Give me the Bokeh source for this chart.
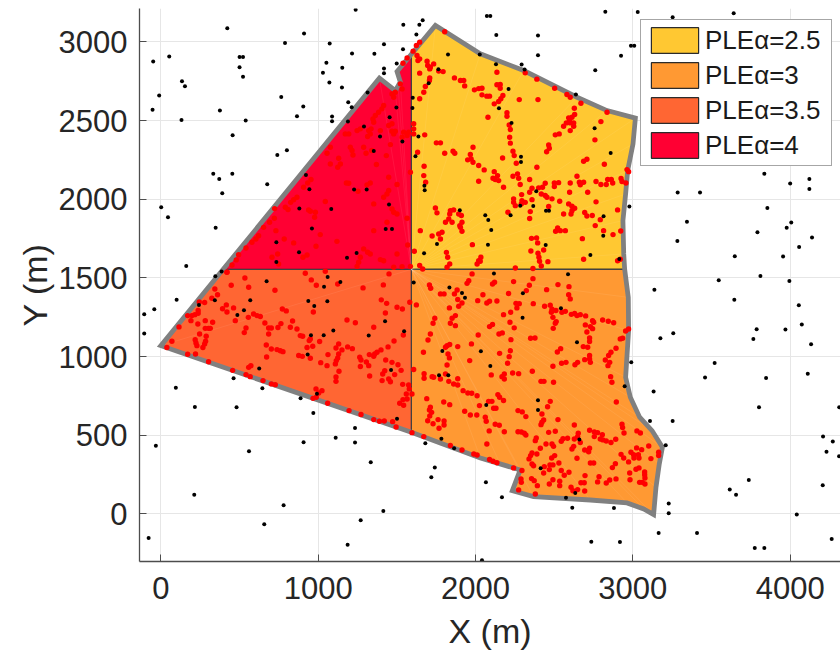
from bokeh.plotting import figure
from bokeh.models import Range1d, FixedTicker, Legend, LegendItem
from bokeh.embed import file_html
from bokeh.resources import INLINE

x_ticks = [0, 1000, 2000, 3000, 4000]
y_ticks = [0, 500, 1000, 1500, 2000, 2500, 3000]
labels = ["PLEα=2.5", "PLEα=3", "PLEα=3.5", "PLEα=4"]
colors = ["#FFC832", "#FF9933", "#FF6633", "#FF0033"]

center = (1592, 1554)
edge_ne = [(1592,2921),(1745,3104),(2030,2924),(2306,2818),(2645,2648),(2836,2563),(3016,2515),(3001,2351),(2967,2182),(2954,2033),(2937,1864),(2942,1652),(2948,1554)]
edge_se = [(2948,1554),(2971,1376),(2973,1165),(2954,868),(2984,741),(3043,614),(3122,529),(3188,423),(3168,317),(3147,168),(3132,-5),(3069,31),(2963,69),(2730,88),(2369,109),(2234,147),(2284,279),(2031,355),(1592,518)]
edge_sw = [(1592,518),(0,1069),(396,1554)]
edge_nw = [(396,1554),(1389,2769),(1490,2690),(1522,2745),(1501,2812),(1592,2921)]

black_points = [
(1238,3204),(422,3087),(910,3053),(1541,3108),(1643,3108),(1664,3138),(1624,3047),(789,2992),(1073,2990),(1418,2985),(1539,2953),(-49,2875),(53,2907),(500,2903),(522,2903),(500,2839),(522,2778),(1215,2926),(1357,2924),(1052,2867),(1153,2835),(1030,2803),(1418,2830),(1418,2801),(1499,2862),(1071,2741),(1151,2710),(134,2750),(153,2718),(-11,2659),(765,2650),(1314,2678),(1191,2616),(1213,2585),(905,2589),(-53,2568),(375,2563),(131,2504),(539,2500),(865,2527),(1088,2525),(1088,2496),(1189,2493),(456,2407),(1454,2521),(1497,2582),(1601,2644),(1599,2580),(1291,2462),(1393,2398),(1637,2398),(1535,2366),(1353,2307),(1618,2273),(801,2311),(740,2281),(333,2161),(454,2161),(371,2129),(922,2154),(676,2095),(944,2063),(1228,2061),(1308,2061),(1675,2086),(1677,2057),(390,2038),(1450,1966),(2,1949),(880,1940),(1083,1938),(45,1885),(1900,1930),(348,1819),(960,1813),(1429,1811),(1469,1811),(734,1726),(1755,1715),(878,1662),(1244,1658),(1673,1656),(1183,1628),(734,1601),(161,1575),(386,1541),(346,1510),(1060,1505),(1702,2737),(1764,2826),(1825,2919),(2027,2919),
(2072,3165),(2094,3165),(2825,3191),(3031,3189),(3253,3157),(3641,3182),(2132,3043),(2397,3040),(2988,2975),(3009,2975),(2397,2915),(2925,2911),(2130,2858),(2293,2856),(2312,2824),(2761,2820),(2210,2701),(2638,2665),(2149,2578),(2229,2485),(2757,2451),(2859,2294),(2289,2269),(2289,2237),(3836,2161),(4122,2129),(4000,2099),(4122,2065),(3285,2042),(3427,2042),(2386,2050),(2284,1959),(2367,1957),(2448,1927),(2467,1927),(2978,1953),(3855,1944),(2062,1898),(2081,1868),(2223,1898),(2814,1891),(3344,1857),(4007,1851),(3978,1819),(2100,1804),(3792,1790),(2812,1768),(4139,1756),(3283,1734),(2079,1711),(2446,1709),(4057,1696),(3648,1637),(3955,1635),(2730,1645),(2914,1620),(2117,1527),(2588,1523),
(3546,1485),(3811,1512),(3995,1480),(3137,1425),(2301,1402),(3645,1360),(4055,1326),(2543,1307),(2299,1247),(4074,1203),(3787,1173),(3970,1171),(3175,1116),(3257,1148),(3766,1112),(2645,1090),(4133,1078),(2034,1033),(2990,963),(3520,959),(2094,940),(4112,891),(3459,866),(3847,864),(2948,811),(3132,777),(2397,722),(2068,692),(3802,677),(2397,660),(3109,590),(3253,590),(4209,491),(4271,459),(2660,472),(3209,436),(4231,395),(4311,366),(2414,289),(3737,215),(2066,200),(4207,181),(3616,154),(3656,122),(2168,105),(2575,103),(2634,133),(3228,65),(2615,39),(2880,37),(3228,3),(4042,-5),(3164,-122),(3408,-122),(2736,-177),(2918,-179),(4264,-160),(3775,-217),(3836,-217),(2041,-295),(4312,677),
(1141,1474),(672,1478),(1607,1470),(1037,1444),(1834,1438),(1914,1404),(1933,1374),(100,1360),(343,1357),(568,1357),(937,1353),(1058,1351),(-42,1300),(242,1328),(975,1321),(-106,1268),(486,1264),(528,1294),(1425,1224),(1096,1165),(1546,1160),(-106,1146),(954,1135),(1035,1135),(1321,1133),(1789,1035),(933,1012),(625,923),(1463,915),(1768,881),(1827,881),(462,862),(645,798),(95,802),(992,764),(888,734),(216,679),(481,677),(969,641),(1501,605),(1234,546),(1783,478),(1111,484),(1681,448),(907,455),(1234,453),(-32,433),(1864,417),(560,397),(1334,328),(1741,294),(1719,232),(212,122),(780,54),(1414,18),(1270,-41),(657,-67),(-78,-153),(1187,-196),
]

red_nw = [
(420,1537),(452,1582),(479,1614),(494,1647),(541,1690),(579,1726),(604,1747),(621,1768),(653,1821),(691,1853),(721,1879),(723,1940),(791,1949),(808,1934),(825,1980),(844,1997),(865,2012),(907,2076),(933,2103),(954,2125),(939,1932),(950,1923),(982,1917),(977,1885),(1013,1775),(731,1800),(784,1747),(844,1722),(929,1645),(903,1631),(742,1652),(706,1631),(748,1588),(986,1701),(1119,1732),(1331,1652),(1289,1684),(1314,1663),(1268,1631),(1257,1599),(1247,1573),(1353,1800),(1565,1879),(1569,1709),(1437,1853),(1469,1938),(1480,1917),(1501,1906),(1353,1970),(1448,2055),(1437,2033),(1416,2012),(1501,2093),(1448,2139),(1331,2103),(1310,2091),(1253,2050),(1179,2103),(1194,2101),(1045,1985),(1416,1609),(1501,1652),(1586,1573),(1533,1571),(1480,1567),(1395,1616),
(1077,2330),(1056,2292),(1077,2224),(1130,2260),(1141,2224),(1124,2203),(1172,2415),(1194,2415),(1204,2330),(1215,2309),(1221,2281),(1289,2330),(1304,2292),(1340,2309),(1370,2220),(1433,2277),(1459,2347),(1247,2436),(1268,2447),(1321,2436),(1336,2447),(1314,2398),(1331,2415),(1395,2436),(1448,2468),(1469,2479),(1469,2432),(1490,2432),(1480,2415),(1543,2426),(1565,2404),(1533,2394),(1575,2426),(1353,2489),(1348,2510),(1363,2532),(1384,2553),(1405,2574),(1416,2595),(1469,2669),(1480,2648),(1490,2680),(1533,2701),(1522,2733),(1539,2864),(1565,2898),
]
red_ne = [
(1603,2941),(1624,2977),(1645,2998),(1628,2913),(1645,2892),(1634,2881),(1607,2479),(1607,2447),(1607,2415),(1677,2409),(1804,3064),(1692,2877),(1696,2850),(1713,2839),(1734,2860),(1709,2828),(1766,2814),(1794,2811),(1645,2801),(1866,2771),(1904,2754),(1925,2754),(1931,2720),(1993,2695),(2020,2703),(1709,2771),(1707,2754),(1681,2716),(1671,2680),(1645,2638),(1751,2358),(1777,2358),(1804,2292),(1857,2305),(1868,2292),(1984,2330),(1967,2284),(1950,2250),(1972,2256),(1984,2235),(2020,2214),(2020,2114),(1632,2298),(1673,2209),(1671,2150),(1683,2108),(1586,2171),(1745,1944),(1755,1913),(1840,1927),(1861,1932),(1836,1906),(1893,1906),(1910,1896),(1830,1874),(1809,1853),(1851,1853),(1914,1853),(1900,1832),(1904,1821),(1914,1796),(1787,1790),(1766,1779),(1724,1766),(1649,1800),(1777,1747),(1980,1711),(1611,1669),(1815,1662),(1823,1631),(1836,1588),(1819,1567),(1645,1578),(1664,1556),(2020,1609),(2010,1588),
(2136,2807),(2136,2727),(2157,2729),(2157,2705),(2041,2705),(2041,2663),(2072,2655),(2089,2655),(2174,2659),(2161,2638),(2147,2621),(2119,2606),(2278,2633),(2397,2633),(2316,2803),(2390,2763),(2503,2705),(2581,2665),(2602,2648),(2670,2610),(2628,2578),(2836,2553),(2630,2538),(2613,2521),(2592,2517),(2598,2500),(2577,2485),(2602,2485),(2624,2485),(2624,2464),(2560,2464),(2602,2436),(2797,2493),(2759,2377),(2507,2409),(2532,2415),(2465,2345),(2469,2324),(2452,2301),(2079,2521),(2200,2549),(2200,2527),(2214,2472),(2221,2443),(2217,2394),(2221,2356),(2238,2305),(2246,2277),(2172,2262),(2259,2228),(2055,2186),(2119,2175),(2140,2150),(2111,2133),(2125,2125),(2147,2118),(2178,2076),(2238,2146),(2267,2161),(2274,2133),(2284,2093),(2344,2125),(2390,2203),(2687,2241),(2708,2254),(2819,2222),(2963,2188),(2973,2175),(2645,2146),(2766,2112),(2840,2125),(2863,2125),(2797,2093),(2831,2093),(2872,2103),(2925,2131),(2931,2112),(2956,2103),(2443,2101),(2501,2103),(2528,2105),(2501,2080),(2602,2103),(2660,2108),(2687,2108),(2666,2091),(2598,2044),(2713,2044),(2359,2069),(2344,2044),(2401,2072),(2426,2076),(2418,2033),(2443,2023),(2454,2012),(2293,2029),(2242,2002),(2242,1980),(2295,1991),(2316,1980),(2291,1970),(2253,1959),(2359,1997),(2486,2002),(2535,1987),(2465,1953),(2592,1970),(2766,1983),(2613,1955),(2630,1942),(2613,1927),(2560,1906),(2607,1906),(2694,1915),(2708,1893),(2742,1896),(2793,1870),(2903,1932),(2206,1917),(2348,1921),(2344,1877),(2761,1832),(2814,1800),(2874,1775),(2923,1798),(2509,1796),(2522,1817),(2539,1800),(2571,1800),(2356,1751),(2388,1754),(2395,1722),(2679,1749),(2433,1677),(2352,1671),(2397,1656),(2403,1631),(2407,1605),(2460,1603),(2418,1575),(2687,1618),(2903,1609),(2920,1618),(2034,1631),(2030,1605),(2253,1563),(2365,1559),
]
red_sw = [
(420,1535),(534,1499),(918,1529),(956,1487),(1045,1542),(988,1453),(1124,1461),(1285,1436),(1414,1455),(1450,1525),(447,1453),(558,1440),(725,1421),(343,1429),(360,1393),(324,1370),(244,1347),(278,1343),(392,1304),(416,1328),(420,1283),(462,1309),(473,1228),(237,1292),(237,1275),(216,1266),(170,1260),(197,1260),(191,1228),(235,1207),(282,1228),(329,1218),(115,1188),(282,1179),(303,1179),(314,1179),(246,1143),(288,1129),(284,1097),(278,1080),(267,1057),(218,1107),(223,1086),(229,1069),(70,1097),(38,1057),(170,1014),(220,1016),(303,967),(456,912),(541,885),(568,872),(558,931),(572,942),(649,847),(702,826),(727,821),(556,1249),(589,1270),(611,1260),(632,1254),(661,1213),(685,1181),(702,1181),(685,1143),(541,1181),(530,1152),(744,1184),(763,1209),(772,1302),(797,1290),(823,1186),(837,1226),(865,1175),(886,1133),(901,1129),(969,1283),(950,1112),(943,1101),(1009,1095),(965,1065),(929,1057),(670,1073),(702,1048),(738,1044),(759,1037),(776,1031),(672,997),(876,1006),(899,1001),(950,989),(1016,961),(1056,942),(1062,1012),(1113,1054),(1130,1080),(1151,1042),(1187,1061),(1217,1050),(1130,1016),(1124,991),(1115,974),(1109,953),(1132,906),(1113,870),(1113,842),(1183,1232),(1236,1215),(1264,995),(1272,978),(1268,936),(1306,965),(1321,942),(1327,876),(1325,1012),(1353,1001),(1359,1016),(1374,1027),(1399,1042),(1444,1061),(1353,1186),(1427,1277),(1401,1360),(1435,1338),(1501,1313),(1535,1302),(1582,1345),(1482,1099),(1541,1137),(1429,978),(1469,963),(1507,948),(1423,910),(1410,889),(1448,857),(1459,840),(1486,885),(1406,847),(1527,912),(1537,823),(1575,819),(1579,794),(1596,762),(1560,762),(1565,730),(1539,726),(1518,703),(1543,690),(1473,586),(1495,552),(1420,590),(1389,588),(1353,599),(1272,631),(1196,656),(1060,703),(986,794),(1024,783),(1003,768),(988,741),(967,734),(1596,516),
]
red_se = [
(1624,1328),(1607,917),(1673,891),(1673,862),(1724,872),(1734,868),(1777,857),(1809,889),(1830,842),(1861,825),(1887,819),(1887,859),(1921,783),(1951,768),(1976,766),(2010,751),(1690,732),(1798,711),(1836,694),(1713,677),(1707,660),(1721,645),(1709,622),(1696,592),(1730,573),(1762,599),(1800,590),(1768,544),(1800,565),(1931,652),(1967,628),(2008,628),(2025,688),(1671,491),(1840,434),(1914,406),(1989,380),(2010,374),(1707,1455),(1715,1434),(1777,1398),(1800,1398),(1866,1398),(1883,1423),(1946,1465),(1957,1482),(1978,1525),(2014,1355),(1887,1362),(1914,1340),(1893,1319),(1834,1309),(1741,1243),(1730,1211),(1713,1143),(1698,1105),(1669,1027),(1840,1211),(1851,1243),(1872,1260),(1872,1196),(2017,1137),(1974,1080),(1887,1063),(1819,1069),(1836,1076),(1809,1059),(1825,1016),(1834,991),(1819,946),(1963,974),
(2108,1461),(2121,1472),(2242,1476),(2365,1495),(2342,1453),(2323,1419),(2452,1425),(2524,1457),(2594,1444),(2592,1393),(2602,1366),(2210,1400),(2047,1393),(2136,1353),(2089,1351),(2072,1340),(2257,1338),(2278,1336),(2263,1309),(2367,1336),(2439,1319),(2475,1326),(2486,1300),(2482,1281),(2511,1292),(2549,1281),(2571,1287),(2492,1249),(2513,1222),(2507,1211),(2494,1179),(2178,1266),(2223,1281),(2219,1218),(2246,1182),(2089,1190),(2108,1203),(2149,1143),(2170,1150),(2225,1107),(2350,1116),(2378,1118),(2609,1268),(2630,1273),(2645,1260),(2666,1266),(2700,1258),(2698,1201),(2744,1228),(2751,1218),(2730,1190),(2744,1177),(2708,1156),(2808,1232),(2844,1224),(2878,1215),(2954,1162),(2973,1175),(2935,1116),(2920,1112),(2725,1118),(2725,1095),(2685,1063),(2713,1059),(2541,1050),(2520,1029),(2221,1037),(2214,999),(2153,1020),(2204,957),(2547,957),(2575,963),(2649,963),(2632,948),(2492,938),(2694,980),(2725,1006),(2725,984),(2730,963),(2893,1052),(2861,1027),(2846,1006),(2825,978),(2853,963),(2842,942),(2859,872),(2867,836),(2100,883),(2168,872),(2183,889),(2183,857),(2236,895),(2274,891),(2361,906),(2416,842),(2435,842),(2496,836),(2895,711),(2475,715),(2458,681),(2142,758),(2153,741),(2083,715),(2104,715),(2178,720),(2115,671),(2130,671),(2270,656),(2297,648),(2320,618),(2422,635),(2524,599),(2433,597),(2422,582),(2416,567),(2062,614),(2068,588),(2125,569),(2151,563),(2087,527),(2183,522),(2270,522),(2291,520),(2310,512),(2320,501),(2465,518),(2507,525),(2628,565),(2725,531),(2755,520),(2776,516),(2806,503),(2755,491),(2793,476),(2810,470),(2831,463),(2861,453),(2891,474),(2931,569),(2935,548),(2944,514),(3026,527),(3048,514),(3101,431),(3056,408),(3164,391),(3164,370),(3115,351),(3024,419),(2988,391),(3005,376),(3035,376),(2925,378),(2942,355),(2973,330),(3007,355),(3039,355),(2889,319),(2870,294),(3020,283),(3039,292),(2980,260),(3075,266),(3075,249),(3077,228),(2982,217),(3043,200),(3060,200),(3077,190),(2893,222),(2853,215),(2831,196),(2776,203),(2785,236),(2696,243),(2691,198),(2670,198),(2694,145),(2607,169),(2619,147),(2649,154),(2535,207),(2535,179),(2492,217),(2469,190),(2564,245),(2594,264),(2545,275),(2530,323),(2492,311),(2473,311),(2469,281),(2433,260),(2437,300),(2369,306),(2359,317),(2356,224),(2373,211),(2393,179),(2289,222),(2291,200),(2274,152),(2380,126),(2295,275),(2242,292),(2136,325),(2111,334),(2089,345),(2340,349),(2350,370),(2359,387),(2390,380),(2484,355),(2503,370),(2645,353),(2730,323),(2751,323),(2694,406),(2719,395),(2725,417),(2613,412),(2624,429),(2448,444),(2486,444),(2496,429),(2412,417),(2380,465),(2386,482),(2545,461),(2556,478),(2585,480),(2628,476),(2653,512),(2649,491),(2666,453),(2072,444),
]

FONT = "Liberation Sans"
p = figure(width=840, height=653, output_backend="svg", toolbar_location=None,
           x_range=Range1d(-136, 4320), y_range=Range1d(-303, 3212),
           min_border_left=139, min_border_right=0, min_border_top=8, min_border_bottom=92)
p.outline_line_color = None
p.background_fill_color = "white"

p.grid.grid_line_color = "#e6e6e6"
p.grid.grid_line_width = 1
p.xaxis.ticker = FixedTicker(ticks=x_ticks)
p.yaxis.ticker = FixedTicker(ticks=y_ticks)
for ax in (p.xaxis[0], p.yaxis[0]):
    ax.axis_line_color = "#4d4d4d"
    ax.axis_line_width = 1.3
    ax.major_tick_line_color = "#4d4d4d"
    ax.major_tick_in = 7
    ax.major_tick_out = 0
    ax.minor_tick_line_color = None
    ax.major_label_text_font = FONT
    ax.major_label_text_font_size = "31px"
    ax.major_label_text_color = "#262626"
    ax.axis_label_text_font = FONT
    ax.axis_label_text_font_style = "normal"
    ax.axis_label_text_font_size = "34px"
    ax.axis_label_text_color = "#262626"
p.xaxis.axis_label = "X (m)"
p.yaxis.axis_label = "Y (m)"
p.xaxis.major_label_standoff = 15
p.yaxis.major_label_standoff = 12
p.xaxis.axis_label_standoff = 10
p.yaxis.axis_label_standoff = 2
p.yaxis.major_label_orientation = "horizontal"

regions = [[center] + edge_ne, [center] + edge_se, [center] + edge_sw, [center] + edge_nw]
items = []
for pts, col, lab in zip(regions, colors, labels):
    r = p.patch([q[0] for q in pts], [q[1] for q in pts], fill_color=col,
                line_color="#2b2b2b", line_width=1.2)
    items.append(LegendItem(label=lab, renderers=[r]))

# faint seams of the fan-shaped fill inside each region
sx, sy, ex, ey = [], [], [], []
for pts in regions:
    for q in pts[1:]:
        sx.append(center[0]); sy.append(center[1]); ex.append(q[0]); ey.append(q[1])
p.segment(sx, sy, ex, ey, line_color="white", line_alpha=0.07, line_width=1)

boundary = edge_ne + edge_se[1:] + edge_sw[1:] + edge_nw[1:]
p.line([q[0] for q in boundary], [q[1] for q in boundary], line_color="#808080",
       line_width=4.8, line_join="miter")

red_points = red_nw + red_ne + red_sw + red_se
p.scatter([q[0] for q in red_points], [q[1] for q in red_points], size=5.4,
          fill_color="#FF0000", line_color=None)
p.scatter([q[0] for q in black_points], [q[1] for q in black_points], size=4,
          fill_color="black", line_color=None)

legend = Legend(items=items, location=(501, 395), orientation="vertical",
                label_text_font=FONT, label_text_font_size="26px", label_text_color="#1a1a1a",
                glyph_width=59, glyph_height=32, label_standoff=1, label_width=122,
                spacing=3, padding=4,
                margin=0, border_line_color="#4d4d4d", border_line_width=1,
                background_fill_color="white", background_fill_alpha=1)
p.add_layout(legend, "center")

open("out.html", "w").write(file_html(p, INLINE))
